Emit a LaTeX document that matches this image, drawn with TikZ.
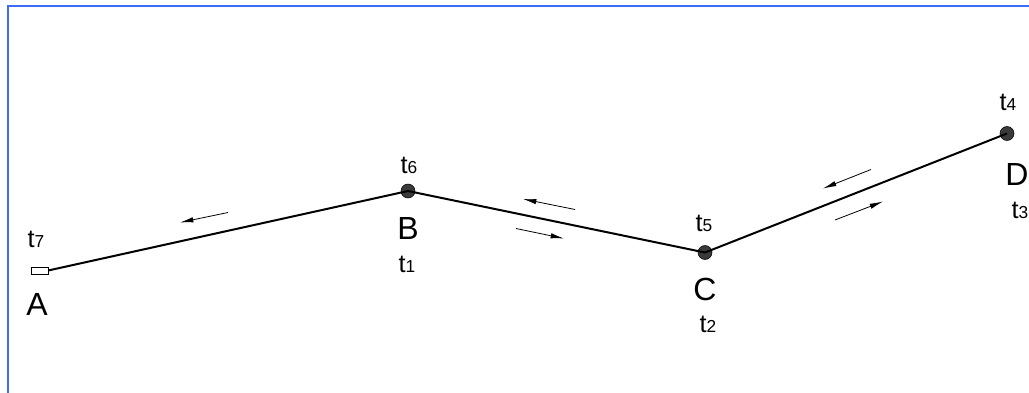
\documentclass[tikz,border=0pt]{standalone}
\usepackage{fontspec}
\setmainfont{Liberation Sans}
\usetikzlibrary{arrows.meta}
\definecolor{frameblue}{HTML}{3F6BF5}
\definecolor{dotgray}{HTML}{3A3A3A}
\tikzset{
  joint/.style={circle,fill=dotgray,draw=black,line width=0.4pt,minimum size=10.5pt,inner sep=0pt},
  endbox/.style={rectangle,draw=black,fill=white,line width=0.5pt,minimum width=12.5pt,minimum height=5pt,inner sep=0pt},
  ptlabel/.style={font=\fontsize{24}{24}\selectfont,inner sep=0pt},
  tlabel/.style={font=\fontsize{19}{19}\selectfont,inner sep=0pt},
  route/.style={line width=1.5pt},
  flow/.style={-{Latex[length=10pt,width=4pt]},line width=0.6pt},
}
\newcommand{\tsub}[1]{t{\fontsize{13}{13}\selectfont #1}}

\begin{document}
\begin{tikzpicture}[x=0.75pt,y=-0.75pt]
    \useasboundingbox (0,0) rectangle (1029,393);
    \draw[frameblue,line width=1.8pt] (8,393) -- (8,6) -- (1029,6);
    % points of the route
    \node[endbox] (A) at (39.5,270.5) {};
    \node[joint] (B) at (408,191) {};
    \node[joint] (C) at (705,252.5) {};
    \node[joint] (D) at (1007,133.5) {};
    \draw[route] (A.east) -- (B.center) -- (C.center) -- (D.center);
    % letters and times
    \node[ptlabel] (lA) at (37,304) {A};
    \node[ptlabel] (lB) at (408,228) {B};
    \node[ptlabel] (lC) at (705,289) {C};
    \node[ptlabel] (lD) at (1017,174) {D};
    \node[tlabel] (t7) at (36,239) {\tsub{7}};
    \node[tlabel] (t6) at (409,165) {\tsub{6}};
    \node[tlabel] (t1) at (407,264) {\tsub{1}};
    \node[tlabel] (t5) at (704,223) {\tsub{5}};
    \node[tlabel] (t2) at (708,324) {\tsub{2}};
    \node[tlabel] (t4) at (1008,102) {\tsub{4}};
    \node[tlabel] (t3) at (1020,210) {\tsub{3}};
    % direction arrows
    \coordinate (ab1s) at (228,212.5);
    \coordinate (ab1e) at (180,222.5);
    \coordinate (bc1s) at (575,209.5);
    \coordinate (bc1e) at (523,199);
    \coordinate (bc2s) at (516,228.5);
    \coordinate (bc2e) at (564,238.5);
    \coordinate (cd1s) at (871,169.5);
    \coordinate (cd1e) at (823,188.5);
    \coordinate (cd2s) at (835,220);
    \coordinate (cd2e) at (883,201.5);
    \draw[flow] (ab1s) -- (ab1e);
    \draw[flow] (bc1s) -- (bc1e);
    \draw[flow] (bc2s) -- (bc2e);
    \draw[flow] (cd1s) -- (cd1e);
    \draw[flow] (cd2s) -- (cd2e);
\end{tikzpicture}
\end{document}
